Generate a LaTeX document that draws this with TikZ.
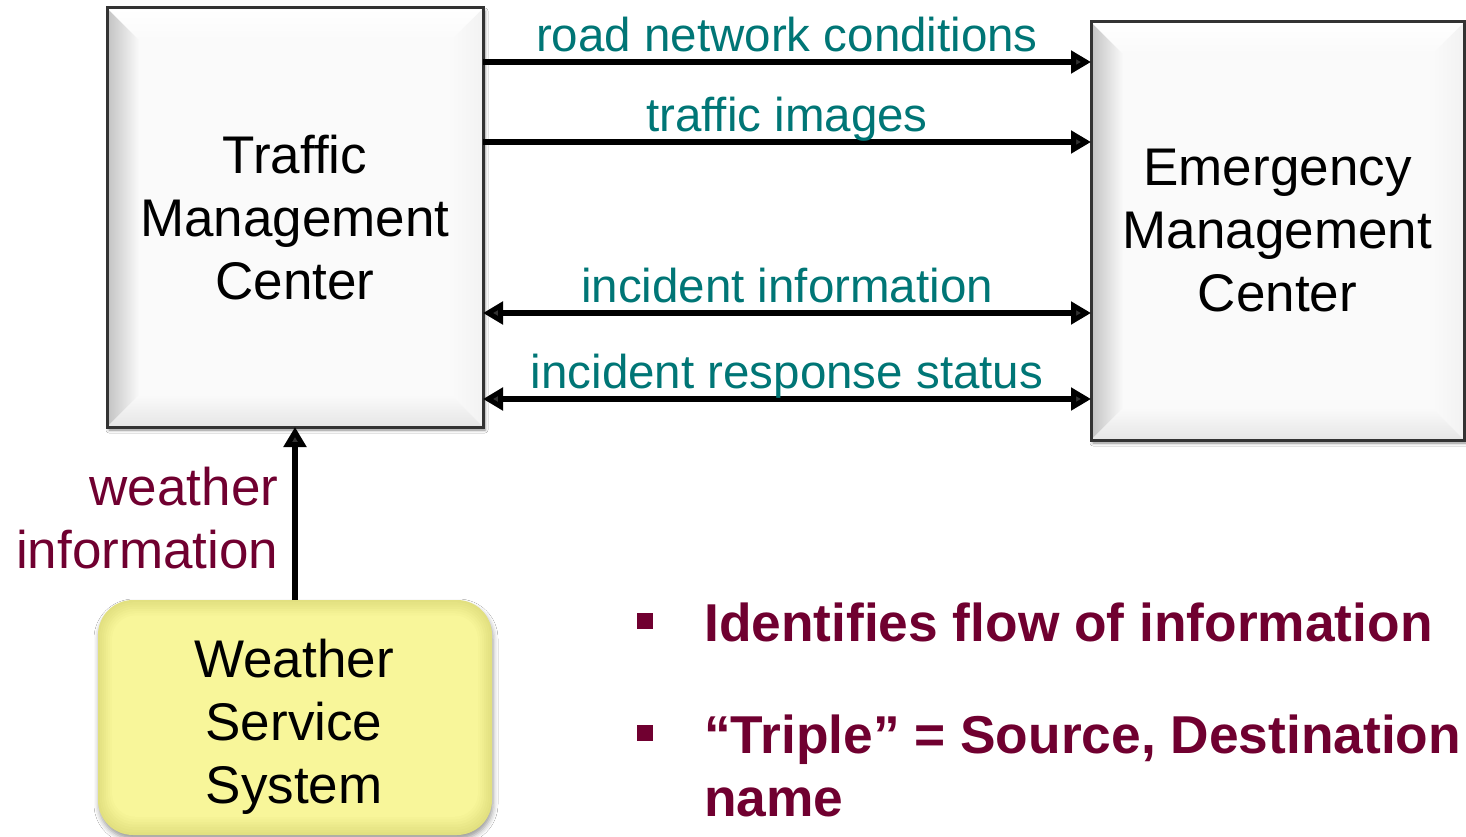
\documentclass[tikz,border=0pt]{standalone}
\usepackage{fontspec}
\setmainfont{Liberation Sans}
\usetikzlibrary{arrows.meta,shadows.blur,calc}

\pgfdeclarelayer{bg}
\pgfsetlayers{bg,main}

\definecolor{flowteal}{RGB}{0,118,118}
\definecolor{noteMaroon}{RGB}{112,0,48}
\definecolor{boxface}{RGB}{250,250,250}
\definecolor{wssface}{RGB}{248,246,154}
\definecolor{wssrim}{RGB}{226,224,128}

\tikzset{
  sysbox/.style={draw=black!80, line width=3pt, outer sep=0pt, align=center,
    font=\fontsize{53}{63}\selectfont},
  wssbox/.style={outer sep=0pt, rounded corners=35pt},
  boxtext/.style={align=center, inner sep=0pt, font=\fontsize{53}{63}\selectfont},
  flow/.style={line width=5.5pt, -{Triangle[length=20pt,width=22pt]}},
  dflow/.style={line width=5.5pt, {Triangle[length=20pt,width=22pt]}-{Triangle[length=20pt,width=22pt]}},
  flowlabel/.style={midway, anchor=base, yshift=10.5pt, inner sep=0pt,
    text=flowteal, font=\fontsize{47.5}{56}\selectfont},
  notetext/.style={anchor=base west, inner sep=0pt, text=noteMaroon,
    font=\fontsize{53.3}{63}\selectfont\bfseries},
  bulletmark/.style={fill=noteMaroon, minimum size=16pt, inner sep=0pt}
}

% bevelled face behind a rectangular node: #1 node name, #2 bevel width
\newcommand\drawbevel[2]{%
  \begin{pgfonlayer}{bg}
    \path[blur shadow={shadow xshift=2pt, shadow yshift=-3pt, shadow blur radius=3pt,
      shadow opacity=45}] (#1.north west) rectangle (#1.south east);
    \fill[boxface] (#1.north west) rectangle (#1.south east);
    \shade[left color=black!24, right color=boxface]
      (#1.north west) -- ($(#1.north west)+(#2,#2)$) -- ($(#1.south west)+(#2,-#2)$) -- (#1.south west) -- cycle;
    \shade[left color=boxface, right color=black!5]
      (#1.north east) -- ($(#1.north east)+(-#2,#2)$) -- ($(#1.south east)+(-#2,-#2)$) -- (#1.south east) -- cycle;
    \shade[top color=white, bottom color=boxface]
      (#1.north west) -- ($(#1.north west)+(#2,#2)$) -- ($(#1.north east)+(-#2,#2)$) -- (#1.north east) -- cycle;
    \shade[top color=boxface, bottom color=black!10]
      (#1.south west) -- ($(#1.south west)+(#2,-#2)$) -- ($(#1.south east)+(-#2,-#2)$) -- (#1.south east) -- cycle;
  \end{pgfonlayer}}

\begin{document}
\begin{tikzpicture}[x=1pt, y=-1pt]
  \begin{pgfonlayer}{bg}
    \fill[white] (0,0) rectangle (1466,837);
  \end{pgfonlayer}
  \useasboundingbox (0,0) rectangle (1466,837);

  % the two centres
  \node[sysbox, minimum width=376pt, minimum height=419pt] (tmc) at (295,217.5)
    {Traffic\\Management\\Center};
  \node[sysbox, minimum width=373pt, minimum height=418pt] (emc) at (1277.5,231)
    {Emergency\\Management\\Center};
  \drawbevel{tmc}{32}
  \drawbevel{emc}{32}

  % weather service: soft yellow rounded box
  \node[wssbox, minimum width=394pt, minimum height=235pt] (wss) at (295,717.5) {};
  \node[boxtext] (wsstext) at ($(wss.center)+(-1,9)$) {Weather\\Service\\System};
  \begin{pgfonlayer}{bg}
    \path[rounded corners=35pt, blur shadow={shadow xshift=1pt, shadow yshift=-4pt,
      shadow blur radius=5pt, shadow opacity=40}] (wss.north west) rectangle (wss.south east);
    \foreach \k in {0,...,7} {
      \pgfmathsetmacro\mix{100*\k/7}
      \fill[wssface!\mix!wssrim, rounded corners={35pt-1.6pt*\k}]
        ($(wss.north west)+(2*\k,2.2*\k)$) rectangle ($(wss.south east)+(-2*\k,-2.6*\k)$);
    }
  \end{pgfonlayer}

  % information flows between the centres
  \draw[flow] (tmc.east |- 0,62) -- (emc.west |- 0,62)
    node[flowlabel] {road network conditions};
  \draw[flow] (tmc.east |- 0,142) -- (emc.west |- 0,142)
    node[flowlabel] {traffic images};
  \draw[dflow] (tmc.east |- 0,313) -- (emc.west |- 0,313)
    node[flowlabel] {incident information};
  \draw[dflow] (tmc.east |- 0,399) -- (emc.west |- 0,399)
    node[flowlabel] {incident response status};

  % weather feed into traffic management
  \draw[flow] (wss.north) -- (tmc.south)
    node[midway, anchor=east, align=right, inner sep=0pt, xshift=-14pt, yshift=-5pt,
      text=noteMaroon, font=\fontsize{53}{63}\selectfont] (wxlabel) {weather\\information};

  % notes
  \node[bulletmark] (b1) at (645,621) {};
  \node[notetext] (n1) at (704,641) {Identifies flow of information};
  \node[bulletmark] (b2) at (645,733) {};
  \node[notetext] (n2) at (704,753) {“Triple” = Source, Destination};
  \node[notetext] (n3) at (704,816) {name};
\end{tikzpicture}
\end{document}
